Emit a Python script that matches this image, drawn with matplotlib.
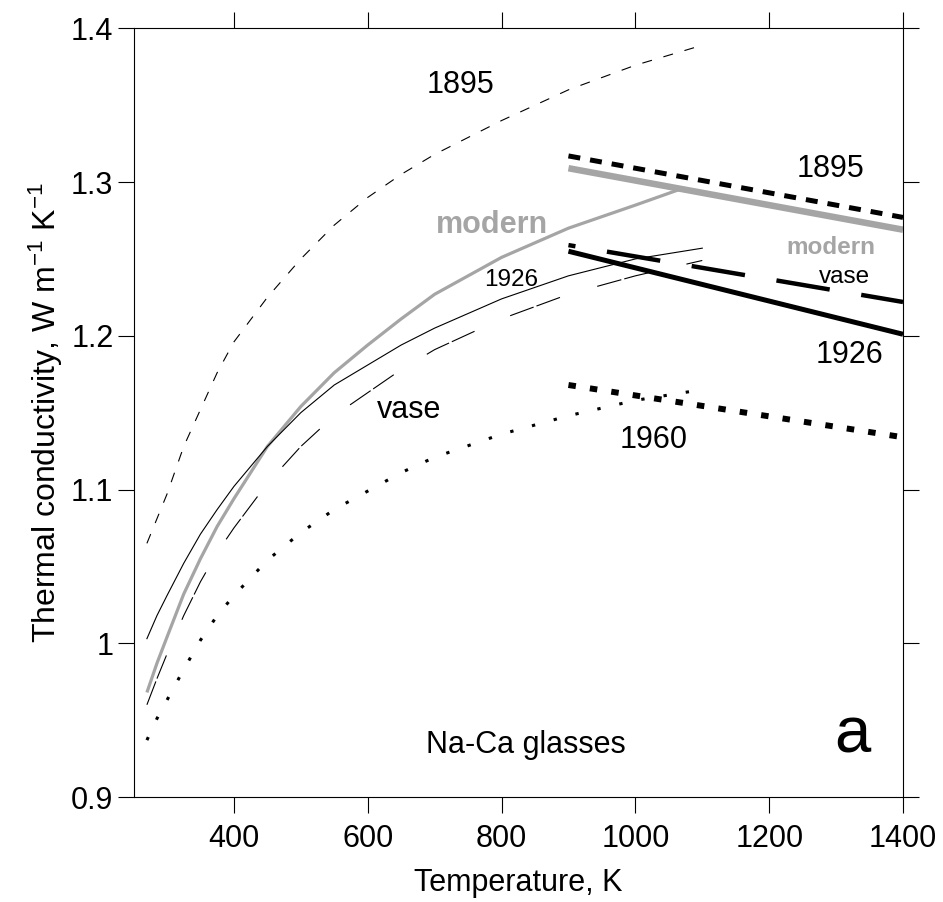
import matplotlib
matplotlib.use("Agg")
import matplotlib.pyplot as plt

plt.rcParams['font.family'] = ['Liberation Sans', 'DejaVu Sans']
plt.rcParams['mathtext.fontset'] = 'custom'
plt.rcParams['mathtext.rm'] = 'Liberation Sans'
plt.rcParams['mathtext.it'] = 'Liberation Sans:italic'
plt.rcParams['mathtext.bf'] = 'Liberation Sans:bold'
plt.rcParams['lines.scale_dashes'] = False

# ---- data: thin curves (temperature K, conductivity W m-1 K-1) ----
T_curve = [270, 285, 300, 325, 350, 375, 400, 450, 500, 550, 600, 650, 700, 800, 900, 1000, 1100]
k_1895_thin = [1.065, 1.081, 1.097, 1.128, 1.152, 1.176, 1.196, 1.225, 1.250, 1.272, 1.290,
               1.305, 1.318, 1.340, 1.360, 1.376, 1.389]
k_1926_thin = [1.003, 1.018, 1.031, 1.052, 1.071, 1.087, 1.102, 1.128, 1.150, 1.168, 1.181,
               1.194, 1.205, 1.224, 1.239, 1.250, 1.257]
k_vase_thin = [0.960, 0.977, 0.993, 1.018, 1.040, 1.059, 1.075, 1.104, 1.128, 1.148, 1.163,
               1.178, 1.191, 1.211, 1.227, 1.239, 1.249]
k_1960_thin = [0.937, 0.951, 0.963, 0.983, 1.002, 1.018, 1.031, 1.054, 1.072, 1.087, 1.099,
               1.111, 1.121, 1.136, 1.148, 1.158, 1.165]

T_modern = [270, 285, 300, 325, 350, 375, 400, 450, 500, 550, 600, 650, 700, 800, 900, 1000, 1068]
k_modern_thin = [0.968, 0.987, 1.004, 1.032, 1.055, 1.076, 1.094, 1.128, 1.154, 1.176, 1.194,
                 1.211, 1.227, 1.251, 1.270, 1.285, 1.2955]

# ---- data: thick straight lines ----
T_line = [900, 1400]
k_1895_thick = [1.317, 1.277]
k_modern_thick = [1.309, 1.269]
k_vase_thick = [1.259, 1.222]
k_1926_thick = [1.255, 1.201]
k_1960_thick = [1.168, 1.134]

x_ticks = [400, 600, 800, 1000, 1200, 1400]
y_ticks = [0.9, 1.0, 1.1, 1.2, 1.3, 1.4]
y_ticklabels = ['0.9', '1', '1.1', '1.2', '1.3', '1.4']

GRAY = '#a5a5a5'

fig = plt.figure(figsize=(9.43, 9.02), dpi=100)
ax = fig.add_axes([0.1416, 0.1164, 0.816, 0.8522])

# thin curves
ax.plot(T_curve, k_1895_thin, color='black', lw=0.8, linestyle=(0, (7.2, 8.6)))
ax.plot(T_modern, k_modern_thin, color=GRAY, lw=2.3, solid_capstyle='butt')
ax.plot(T_curve, k_1926_thin, color='black', lw=0.8)
ax.plot(T_curve, k_vase_thin, color='black', lw=0.8, linestyle=(0, (18, 2.2, 18, 28)))
ax.plot(T_curve, k_1960_thin, color='black', lw=2.2, linestyle=(0, (2.4, 13.8)),
        dash_capstyle='butt')

# thick lines
ax.plot(T_line, k_modern_thick, color=GRAY, lw=4.7, solid_capstyle='butt')
ax.plot(T_line, k_1895_thick, color='black', lw=3.6, linestyle=(0, (8.6, 7.2)),
        dash_capstyle='butt')
ax.plot(T_line, k_vase_thick, color='black', lw=3.2, linestyle=(33.8, (38.9, 23.0)),
        dash_capstyle='butt')
ax.plot(T_line, k_1926_thick, color='black', lw=3.6, solid_capstyle='butt')
ax.plot(T_line, k_1960_thick, color='black', lw=4.3, linestyle=(0, (5.4, 10.2)),
        dash_capstyle='butt')

ax.set_xlim(250, 1400)
ax.set_ylim(0.9, 1.4)
ax.set_xticks(x_ticks)
ax.set_yticks(y_ticks)
ax.set_yticklabels(y_ticklabels)

ax.tick_params(axis='both', which='major', direction='out', length=11.5, width=0.8,
               labelsize=22, top=True, right=True, labeltop=False, labelright=False)
ax.tick_params(axis='x', pad=8)
ax.tick_params(axis='y', pad=3)
for s in ax.spines.values():
    s.set_linewidth(0.8)

ax.set_xlabel('Temperature, K', fontsize=22, labelpad=10)
ax.set_ylabel(r'Thermal conductivity, W m$^{\mathregular{-1}}$ K$^{\mathregular{-1}}$',
              fontsize=23, labelpad=4)

# annotations (baseline anchored)
tk = dict(ha='center', va='baseline')
ax.text(739, 1.358, '1895', fontsize=22, **tk)
ax.text(785, 1.267, 'modern', fontsize=22, color=GRAY, fontweight='bold', **tk)
ax.text(814, 1.2325, '1926', fontsize=17.5, **tk)
ax.text(662, 1.1465, 'vase', fontsize=22, **tk)
ax.text(1027, 1.127, '1960', fontsize=22, **tk)
ax.text(1292, 1.3033, '1895', fontsize=22, **tk)
ax.text(1292, 1.2532, 'modern', fontsize=17.5, color=GRAY, fontweight='bold', **tk)
ax.text(1313, 1.2343, 'vase', fontsize=17.5, **tk)
ax.text(1320, 1.1822, '1926', fontsize=22, **tk)
ax.text(836, 0.9287, 'Na-Ca glasses', fontsize=22, **tk)
ax.text(1325, 0.9292, 'a', fontsize=47, **tk)

fig.savefig('out.png', dpi=100)
